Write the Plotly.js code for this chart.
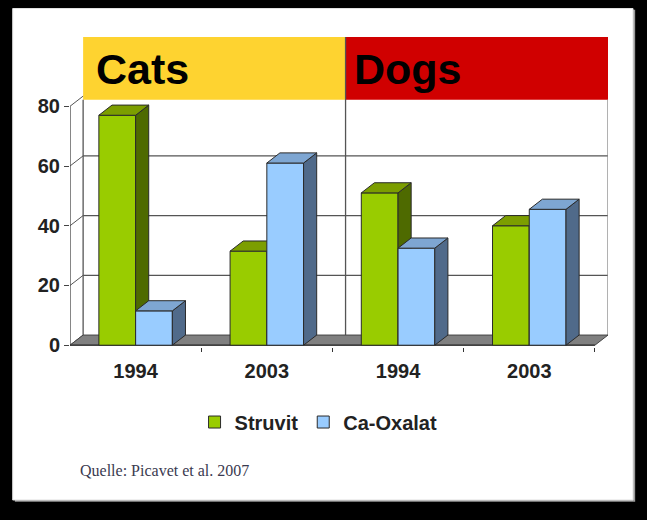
<!DOCTYPE html>
<html>
<head>
<meta charset="utf-8">
<script src="https://cdn.plot.ly/plotly-3.0.1.min.js"></script>
<style>
  html, body { margin: 0; padding: 0; background: #000; }
  #chart { width: 647px; height: 520px; }
</style>
</head>
<body>
<div id="chart"></div>
<script>
// ---- data ----
var categories = [0, 1, 2, 3];
var tickLabels = ['1994', '2003', '1994', '2003'];
var groupNames = ['Cats', 'Dogs'];
var struvit = [77, 31.5, 51, 40];
var caOxalat = [11.5, 61, 32.5, 45.5];
var yTicks = [0, 20, 40, 60, 80];
var sourceText = 'Quelle: Picavet et al. 2007';

// ---- 3D look parameters (styling) ----
var DX = 0.1, DY = 3.4, BW = 0.28;
var X0 = -0.5, X1 = 3.5;

function sidePolys(vals, off) {
  var xs = [], ys = [];
  vals.forEach(function (h, i) {
    var xr = categories[i] + off + BW;
    xs.push(xr, xr + DX, xr + DX, xr, xr, null);
    ys.push(0, DY, h + DY, h, 0, null);
  });
  return {x: xs, y: ys};
}
function topPolys(vals, off) {
  var xs = [], ys = [];
  vals.forEach(function (h, i) {
    var xl = categories[i] + off, xr = xl + BW;
    xs.push(xl, xl + DX, xr + DX, xr, xl, null);
    ys.push(h, h + DY, h + DY, h, h, null);
  });
  return {x: xs, y: ys};
}

var series = [
  {name: '<b>Struvit</b>', vals: struvit, off: -BW, front: '#99CC00', side: '#4E6A00', top: '#7C9E00', xa: 'x', ya: 'y'},
  {name: '<b>Ca-Oxalat</b>', vals: caOxalat, off: 0, front: '#99CCFF', side: '#506A8A', top: '#7EA6D2', xa: 'x2', ya: 'y2'}
];

var traces = [];
series.forEach(function (s) {
  traces.push({
    type: 'bar', name: s.name, x: categories, y: s.vals, width: BW, offset: s.off,
    marker: {color: s.front, line: {color: '#2a2a2a', width: 1}},
    xaxis: s.xa, yaxis: s.ya, hoverinfo: 'y+name'
  });
  var sp = sidePolys(s.vals, s.off);
  traces.push({
    type: 'scatter', mode: 'lines', x: sp.x, y: sp.y, fill: 'toself', fillcolor: s.side,
    line: {color: '#2a2a2a', width: 1}, showlegend: false, hoverinfo: 'skip', xaxis: s.xa, yaxis: s.ya
  });
  var tp = topPolys(s.vals, s.off);
  traces.push({
    type: 'scatter', mode: 'lines', x: tp.x, y: tp.y, fill: 'toself', fillcolor: s.top,
    line: {color: '#2a2a2a', width: 1}, showlegend: false, hoverinfo: 'skip', xaxis: s.xa, yaxis: s.ya
  });
});

var gridColor = '#555555';
var shapes = [];
// panel shadow + white panel
shapes.push({type: 'rect', xref: 'paper', yref: 'paper', x0: -0.1025, x1: 1.0505, y0: -0.4995, y1: 1.0879,
  fillcolor: '#9a9a9a', line: {width: 0}, layer: 'below'});
shapes.push({type: 'rect', xref: 'paper', yref: 'paper', x0: -0.1065, x1: 1.0465, y0: -0.4935, y1: 1.0919,
  fillcolor: '#ffffff', line: {color: '#e0e0e0', width: 1}, layer: 'below'});
// header bands
shapes.push({type: 'rect', xref: 'x', yref: 'y', x0: X0 + DX, x1: 1.5 + DX, y0: 82.2, y1: 103.2,
  fillcolor: '#FED330', line: {width: 0}, layer: 'below'});
shapes.push({type: 'rect', xref: 'x', yref: 'y', x0: 1.5 + DX, x1: X1 + DX, y0: 82.2, y1: 103.2,
  fillcolor: '#D00000', line: {width: 0}, layer: 'below'});
// back-wall gridlines
yTicks.forEach(function (v) {
  if (v > 0 && v < 80) {
    shapes.push({type: 'line', xref: 'x', yref: 'y', x0: X0 + DX, x1: X1 + DX, y0: v + DY, y1: v + DY,
      line: {color: gridColor, width: 1.3}, layer: 'below'});
  }
  shapes.push({type: 'line', xref: 'x', yref: 'y', x0: X0, x1: X0 + DX, y0: v, y1: v + DY,
    line: {color: gridColor, width: 1}, layer: 'below'});
});
// back wall verticals
shapes.push({type: 'line', xref: 'x', yref: 'y', x0: X0 + DX, x1: X0 + DX, y0: DY, y1: 82.2,
  line: {color: gridColor, width: 1.3}, layer: 'below'});
shapes.push({type: 'line', xref: 'x', yref: 'y', x0: 1.5 + DX, x1: 1.5 + DX, y0: DY, y1: 103.2,
  line: {color: gridColor, width: 1.3}, layer: 'below'});
shapes.push({type: 'line', xref: 'x', yref: 'y', x0: X1 + DX, x1: X1 + DX, y0: DY, y1: 82.2,
  line: {color: '#888888', width: 1.3}, layer: 'below'});
// floor
shapes.push({type: 'path', xref: 'x', yref: 'y',
  path: 'M ' + X0 + ',0 L ' + X1 + ',0 L ' + (X1 + DX) + ',' + DY + ' L ' + (X0 + DX) + ',' + DY + ' Z',
  fillcolor: '#808080', line: {color: '#444444', width: 1}, layer: 'below'});
// front axes
shapes.push({type: 'line', xref: 'x', yref: 'y', x0: X0, x1: X0, y0: 0, y1: 80,
  line: {color: '#444444', width: 1.3}, layer: 'below'});
shapes.push({type: 'line', xref: 'x', yref: 'y', x0: X0, x1: X1, y0: 0, y1: 0,
  line: {color: '#333333', width: 1.3}, layer: 'below'});

var annotations = [
  {xref: 'x', yref: 'y', x: -0.317, y: 92.4, xanchor: 'left', yanchor: 'middle', showarrow: false,
   text: '<b>' + groupNames[0] + '</b>', font: {family: 'Liberation Sans, Arial, sans-serif', size: 43, color: '#000'}},
  {xref: 'x', yref: 'y', x: 1.649, y: 92.4, xanchor: 'left', yanchor: 'middle', showarrow: false,
   text: '<b>' + groupNames[1] + '</b>', font: {family: 'Liberation Sans, Arial, sans-serif', size: 43, color: '#000'}},
  {xref: 'paper', yref: 'paper', x: 0.015, y: -0.397, xanchor: 'left', yanchor: 'middle', showarrow: false,
   text: sourceText, font: {family: 'Liberation Serif, Times New Roman, serif', size: 16, color: '#3a3a50'}}
];

var layout = {
  width: 647, height: 520,
  margin: {l: 70, r: 39, t: 37, b: 173},
  paper_bgcolor: '#000000', plot_bgcolor: 'rgba(0,0,0,0)',
  font: {family: 'Liberation Sans, Arial, sans-serif', color: '#222'},
  showlegend: true,
  legend: {orientation: 'h', x: 0.462, xanchor: 'center', y: -0.242, yanchor: 'middle',
    font: {size: 20, color: '#222'}, bgcolor: 'rgba(0,0,0,0)', traceorder: 'normal', itemwidth: 30},
  xaxis: {range: [X0, X1 + DX], tickvals: categories, ticktext: tickLabels.map(function (t) { return '<b>' + t + '</b>'; }), ticks: '',
    showgrid: false, zeroline: false, showline: false, ticklabelstandoff: 10,
    tickfont: {size: 20, color: '#222'},
    minor: {tickvals: [0.5, 1.5, 2.5, 3.5], ticks: 'outside', ticklen: 4, tickcolor: '#333', showgrid: false}},
  yaxis: {range: [-0.6, 103.2], tickvals: yTicks, ticktext: yTicks.map(function (t) { return '<b>' + t + '</b>'; }),
    ticks: 'outside', ticklen: 5, tickcolor: '#444',
    showgrid: false, zeroline: false, showline: false, tickfont: {size: 20, color: '#222'}},
  xaxis2: {range: [X0, X1 + DX], overlaying: 'x', visible: false},
  yaxis2: {range: [-0.6, 103.2], overlaying: 'y', visible: false},
  shapes: shapes,
  annotations: annotations,
  bargap: 0
};

Plotly.newPlot('chart', traces, layout, {displayModeBar: false, staticPlot: true});
</script>
</body>
</html>
